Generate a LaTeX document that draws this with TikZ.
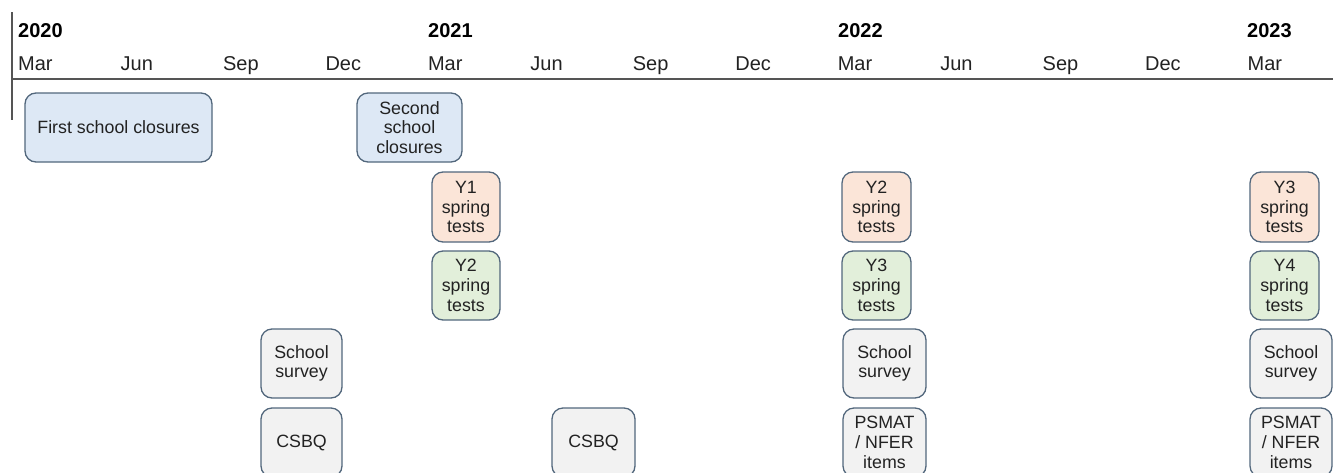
\documentclass[tikz,border=0pt]{standalone}
\usepackage{fontspec}
\setmainfont{Liberation Sans}
\definecolor{bluefill}{HTML}{DDE8F5}
\definecolor{orangefill}{HTML}{FBE5D8}
\definecolor{greenfill}{HTML}{E2EFDA}
\definecolor{grayfill}{HTML}{F2F2F2}
\definecolor{boxborder}{HTML}{52677C}
\definecolor{axisline}{HTML}{555555}
\definecolor{txt}{HTML}{222222}
\tikzset{
  evbox/.style={draw=boxborder, line width=1.3pt, rounded corners=11pt, align=center,
    inner sep=0pt, text=txt, font=\fontsize{17.8}{19.7}\selectfont},
  blueev/.style={evbox, fill=bluefill},
  orangeev/.style={evbox, fill=orangefill},
  greenev/.style={evbox, fill=greenfill},
  grayev/.style={evbox, fill=grayfill},
  yearlbl/.style={anchor=base west, inner sep=0pt, font=\fontsize{20}{22}\selectfont\bfseries, text=black},
  monthlbl/.style={anchor=base west, inner sep=0pt, font=\fontsize{20}{22}\selectfont, text=txt},
  axis/.style={draw=axisline, line width=1.8pt}
}
\begin{document}
\begin{tikzpicture}[x=1pt,y=-1pt]
\useasboundingbox (0,0) rectangle (1333,472);
\clip (0,0) rectangle (1333,472);
% axes
\coordinate (vtop) at (12,12);
\coordinate (vbot) at (12,120);
\coordinate (hl) at (12,79);
\coordinate (hr) at (1340,79);
\draw[axis] (vtop) -- (vbot);
\draw[axis] (hl) -- (hr);
% years
\node[yearlbl] (y2020) at (18,37) {2020};
\node[yearlbl] (y2021) at (428,37) {2021};
\node[yearlbl] (y2022) at (838,37) {2022};
\node[yearlbl] (y2023) at (1247,37) {2023};
% months
\foreach \m [count=\i from 0] in {Mar,Jun,Sep,Dec,Mar,Jun,Sep,Dec,Mar,Jun,Sep,Dec,Mar}{
  \node[monthlbl] (m\i) at ({18+102.45*\i},70) {\m};
}
% events
\node[blueev, minimum width=187pt, minimum height=69pt] (close1) at (118.5,127.5) {First school closures};
\node[blueev, minimum width=105pt, minimum height=69pt] (close2) at (409.5,127.5) {Second\\school\\closures};
\node[orangeev, minimum width=68pt, minimum height=70pt] (y1a) at (466,207) {Y1\\spring\\tests};
\node[greenev, minimum width=68pt, minimum height=69pt] (y2a) at (466,285.5) {Y2\\spring\\tests};
\node[grayev, minimum width=81pt, minimum height=69pt] (ssa) at (301.5,363.5) {School\\survey};
\node[grayev, minimum width=81pt, minimum height=69pt] (csa) at (301.5,442.5) {CSBQ};
\node[grayev, minimum width=83pt, minimum height=69pt] (csb) at (593.5,442.5) {CSBQ};
\node[orangeev, minimum width=69pt, minimum height=70pt] (y2b) at (876.5,207) {Y2\\spring\\tests};
\node[greenev, minimum width=69pt, minimum height=69pt] (y3b) at (876.5,285.5) {Y3\\spring\\tests};
\node[grayev, minimum width=83pt, minimum height=69pt] (ssb) at (884.5,363.5) {School\\survey};
\node[grayev, minimum width=83pt, minimum height=69pt] (psb) at (884.5,442.5) {PSMAT\\/ NFER\\items};
\node[orangeev, minimum width=69pt, minimum height=70pt] (y3c) at (1284.5,207) {Y3\\spring\\tests};
\node[greenev, minimum width=69pt, minimum height=69pt] (y4c) at (1284.5,285.5) {Y4\\spring\\tests};
\node[grayev, minimum width=82pt, minimum height=69pt] (ssc) at (1291,363.5) {School\\survey};
\node[grayev, minimum width=82pt, minimum height=69pt] (psc) at (1291,442.5) {PSMAT\\/ NFER\\items};
\end{tikzpicture}
\end{document}
